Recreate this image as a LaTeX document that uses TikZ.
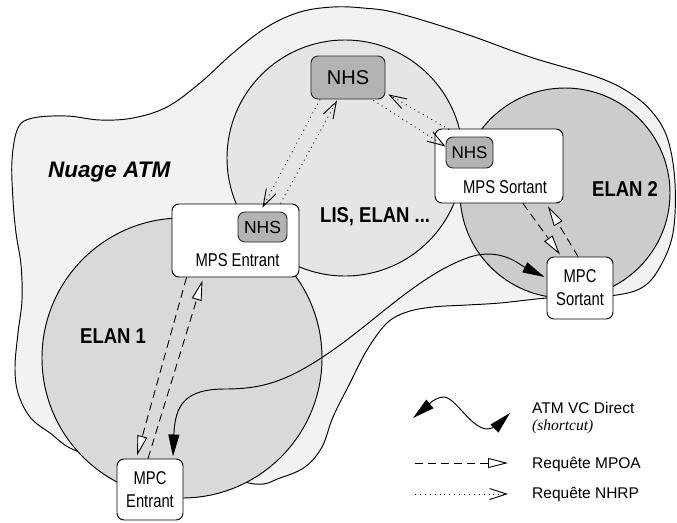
\documentclass[tikz,border=0pt]{standalone}
\usepackage{fontspec}
\setmainfont{Liberation Sans}
\newfontfamily\hv{Liberation Sans}
\newfontfamily\hvn[FakeStretch=0.8]{Liberation Sans}
\newfontfamily\hvb[FakeStretch=0.86]{Liberation Sans}
\newfontfamily\tms{Liberation Serif}
\usetikzlibrary{arrows.meta,calc}
\definecolor{cloudc}{HTML}{F2F2F2}
\definecolor{lisc}{HTML}{E5E5E5}
\definecolor{elanA}{HTML}{D9D9D9}
\definecolor{elanB}{HTML}{CCCCCC}
\definecolor{nhsc}{HTML}{B3B3B3}
\tikzset{
  outl/.style={draw=black, line width=0.95pt},
  box/.style={draw=black, line width=0.95pt, fill=white, rounded corners=7pt, inner sep=0pt, align=center, font=\hvn\fontsize{18.5}{23}\selectfont},
  nhsbox/.style={draw=black!85, line width=0.95pt, fill=nhsc, rounded corners=7pt, inner sep=0pt},
  lbl/.style={inner sep=0pt, anchor=base west},
  big/.style={font=\hvb\bfseries\fontsize{21.5}{24}\selectfont},
  mpsfont/.style={font=\hvn\fontsize{18.5}{22}\selectfont},
  legfont/.style={font=\hv\fontsize{15.5}{18}\selectfont},
  mpoa/.style={dash pattern=on 8pt off 5pt, line width=0.9pt, -{Triangle[length=20pt,width=10pt,fill=white]}},
  nhrp/.style={dash pattern=on 0.9pt off 4pt, line width=0.9pt, -{Straight Barb[length=17pt,width=11pt]}},
  vc/.style={line width=0.95pt, {Triangle[length=22pt,width=11pt]}-{Triangle[length=22pt,width=11pt]}}
}
\begin{document}
\begin{tikzpicture}[x=1pt,y=-1pt]
\useasboundingbox (0,0) rectangle (677,522);
\fill[white] (0,0) rectangle (677,522);
% cloud
\draw[outl, fill=cloudc] plot[smooth cycle, tension=0.6] coordinates {
 (18,128) (33,118) (67,116) (100,120) (133,118) (167,107) (200,83) (233,53)
 (267,27) (300,12) (333,7) (363,8) (397,13) (463,33) (530,57) (597,77)
 (630,93) (653,113) (668,140) (675,183) (673,233) (660,267) (643,287)
 (617,295) (580,297) (547,298) (500,303) (467,305) (433,307) (407,312)
 (387,323) (367,350) (350,383) (333,417) (322,447) (305,467) (280,478)
 (255,484) (200,470) (150,462) (80,452) (50,433) (30,417) (18,393)
 (15,367) (18,333) (22,300) (21,265) (16,233) (13,200) (12,160)};
% circles
\draw[outl, fill=lisc] (345,158) circle[radius=118pt];
\draw[outl, fill=elanA] (182,358) circle[radius=140pt];
\draw[outl, fill=elanB] (565,193) circle[radius=105pt];
% labels
\node[lbl, font=\hv\bfseries\itshape\fontsize{22.5}{26}\selectfont] (tNuage) at (48,177) {Nuage ATM};
\node[lbl, big] (tLis) at (320,222) {LIS, ELAN ...};
\node[lbl, big] (tElanB) at (592,196) {ELAN 2};
\node[lbl, big] (tElanA) at (80,343) {ELAN 1};
% boxes
\node[nhsbox, minimum width=74pt, minimum height=43pt, font=\hv\fontsize{20}{24}\selectfont] (nhsT) at (348,77.5) {NHS};
\node[box, minimum width=127pt, minimum height=73pt] (mpsE) at (235.5,240.5) {};
\node[nhsbox, minimum width=49pt, minimum height=30pt, font=\hv\fontsize{17.5}{20}\selectfont] (nhsE) at (262.5,227) {NHS};
\node[inner sep=0pt, anchor=base, mpsfont] (tmpsE) at (237.5,266) {MPS Entrant};
\node[box, minimum width=128pt, minimum height=74pt] (mpsS) at (499,166) {};
\node[nhsbox, minimum width=47pt, minimum height=31pt, font=\hv\fontsize{17}{20}\selectfont] (nhsS) at (469.5,152.5) {NHS};
\node[inner sep=0pt, anchor=base, mpsfont] (tmpsS) at (505,193) {MPS Sortant};
\node[box, minimum width=66pt, minimum height=62pt] (mpcS) at (580,288) {MPC\\Sortant};
\node[box, minimum width=66pt, minimum height=61pt] (mpcE) at (150,489.5) {MPC\\Entrant};
% NHRP requests
\draw[nhrp] ($(nhsT.south)+(-28,0)$) -- ($(nhsE.north)+(0,-4)$);
\draw[nhrp] ($(mpsE.north)+(45,0)$) -- ($(nhsT.south)+(-11,1)$);
\draw[nhrp] ($(mpsS.north)+(-50,1)$) -- ($(nhsT.south east)+(3,-5)$);
\draw[nhrp] ($(nhsT.south east)+(-12,1)$) -- ($(nhsS.west)+(0,-6)$);
% MPOA requests
\draw[mpoa] ($(mpsE.south)+(-49,0)$) -- ($(mpcE.north)+(-13,-3)$);
\draw[mpoa] ($(mpcE.north)+(-2,0)$) -- ($(mpsE.south)+(-33,3)$);
\draw[mpoa] ($(mpsS.south)+(24,0)$) -- ($(mpcS.north)+(-20,-2)$);
\draw[mpoa] ($(mpcS.north)+(-2,0)$) -- ($(mpsS.south)+(49,3)$);
% ATM VC direct
\draw[vc] ($(mpcE.north)+(23,-2)$) .. controls (175,405) and (185,389) .. (225,389)
  .. controls (265,389) and (290,380) .. (333,350)
  .. controls (376,320) and (420,275) .. (467,258)
  .. controls (500,246) and (520,265) .. ($(mpcS.west)+(-2,-11)$);
% legend
\coordinate (lw1) at (413,418);
\coordinate (lw2) at (510,413);
\draw[vc] (lw1) .. controls (425,408) and (433,398) .. (443,397)
  .. controls (455,396) and (470,428) .. (487,429)
  .. controls (495,429) and (503,420) .. (lw2);
\coordinate (lm1) at (415,463);
\coordinate (lm2) at (508,463);
\draw[mpoa] (lm1) -- (lm2);
\coordinate (ln1) at (415,494);
\coordinate (ln2) at (508,494);
\draw[nhrp] (ln1) -- (ln2);
\node[lbl, legfont] (tvc) at (532,413) {ATM VC Direct};
\node[lbl, font=\tms\itshape\fontsize{15.5}{18}\selectfont] (tsc) at (532,430) {(shortcut)};
\node[lbl, legfont] (tmpoa) at (532,468) {Requête MPOA};
\node[lbl, legfont] (tnhrp) at (532,498) {Requête NHRP};
\end{tikzpicture}
\end{document}
